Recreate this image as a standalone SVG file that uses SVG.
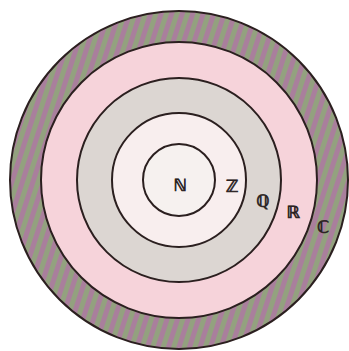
<svg xmlns="http://www.w3.org/2000/svg" width="349" height="351" viewBox="0 0 349 351">
<defs>
<pattern id="stripes" patternUnits="userSpaceOnUse" width="10" height="10" patternTransform="rotate(18)">
<rect width="10" height="10" fill="#a97f9c"/>
<rect width="5" height="10" fill="#93a17f"/>
</pattern>
</defs>
<style>
.ring{stroke:#2b1f1f;stroke-width:2}
.lbl{font-family:"DejaVu Sans",sans-serif;font-size:17px;fill:#2a2222;stroke:#2a2222;stroke-width:0.7;text-anchor:middle}
</style>
<rect width="349" height="351" fill="#ffffff"/>
<g id="C"><circle class="ring" cx="179" cy="180" r="169" fill="url(#stripes)"/></g>
<g id="R"><circle class="ring" cx="179" cy="180" r="138" fill="#f6d3da"/></g>
<g id="Q"><circle class="ring" cx="179" cy="180" r="102" fill="#dcd6d2"/></g>
<g id="Z"><circle class="ring" cx="179" cy="180" r="67" fill="#f8eeee"/></g>
<g id="N"><circle class="ring" cx="179" cy="180" r="36" fill="#f6f1ef"/></g>
<g id="labels">
<text class="lbl" x="180" y="191">ℕ</text>
<text class="lbl" x="232" y="192">ℤ</text>
<text class="lbl" x="263" y="207">ℚ</text>
<text class="lbl" x="293" y="218">ℝ</text>
<text class="lbl" x="323" y="233">ℂ</text>
</g>
<g id="connectors"></g>
</svg>
